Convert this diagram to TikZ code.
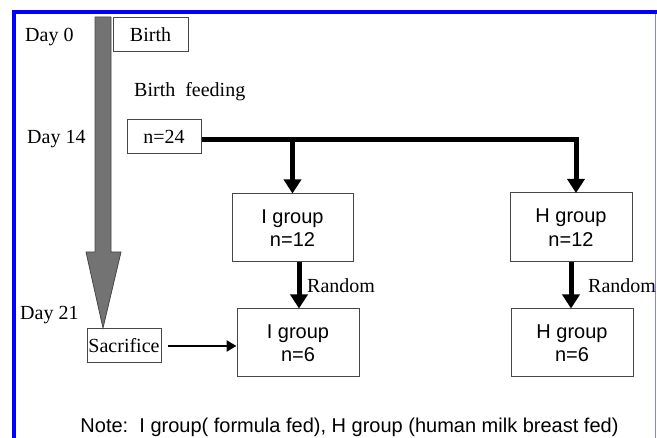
\documentclass[tikz,border=0pt]{standalone}
\usepackage{fontspec}
\setmainfont{Liberation Serif}
\newfontfamily\arialf{Liberation Sans}
\usetikzlibrary{arrows.meta}
\definecolor{boxgray}{RGB}{70,70,70}
\definecolor{shaftgray}{RGB}{115,115,115}
\definecolor{framblue}{RGB}{0,0,255}
\definecolor{framlight}{RGB}{130,130,255}
\begin{document}
\begin{tikzpicture}[x=1pt,y=-1pt,
  tbox/.style={draw=boxgray, line width=1pt, inner sep=0pt, font=\fontsize{20}{23}\selectfont},
  gbox/.style={draw=boxgray, line width=1pt, inner sep=0pt, align=center, font=\arialf\fontsize{20}{23.5}\selectfont},
  lbl/.style={anchor=base west, inner sep=0pt, font=\fontsize{20}{23}\selectfont},
  bigarr/.style={line width=5pt, -{Triangle[width=17pt,length=14pt]}},
  smallarr/.style={line width=2.5pt, -{Triangle[width=11pt,length=10pt]}}]
\useasboundingbox (0,0) rectangle (657,438);
% frame
\fill[framblue] (12,10) rectangle (657,14);
\fill[framblue] (12,10) rectangle (16,438);
\draw[framlight, line width=1.2pt] (655.5,14) -- (655.5,438);
% time arrow
\draw[boxgray, fill=shaftgray, line width=0.8pt]
  (95,17) -- (111,17) -- (111,252) -- (121,252) -- (103,328) -- (86,252) -- (95,252) -- cycle;
% labels
\node[lbl] (d0) at (25,42) {Day 0};
\node[lbl] (d14) at (27,144) {Day 14};
\node[lbl] (d21) at (20,320) {Day 21};
\node[lbl] (bf) at (134,97) {Birth\ \ feeding};
% boxes
\node[tbox, minimum width=75pt, minimum height=34pt] (birth) at (150.5,35) {Birth};
\node[tbox, minimum width=74pt, minimum height=34pt] (n24) at (164,137) {n=24\hspace{6pt}};
\node[tbox, minimum width=74pt, minimum height=34pt] (sac) at (124,346) {Sacrifice};
\node[gbox, minimum width=121pt, minimum height=68pt] (i12) at (292.5,228) {I group\\n=12};
\node[gbox, minimum width=122pt, minimum height=69pt] (h12) at (571,227.5) {H group\\n=12};
\node[gbox, minimum width=122pt, minimum height=68pt] (i6) at (298,343) {I group\\n=6};
\node[gbox, minimum width=122pt, minimum height=68pt] (h6) at (572,343) {H group\\n=6};
% connectors
\coordinate (start) at (n24.east |- 0,140);
\coordinate (split) at (292.5,140);
\coordinate (hin) at (576,193);
\draw[bigarr] (start) -| (hin);
\draw[bigarr] (split) -- (i12.north);
\coordinate (ir) at (299,262);
\draw[bigarr] (ir) -- (ir |- i6.north);
\draw[bigarr] (h12.south) -- (h12.south |- h6.north);
\draw[smallarr] ([xshift=6pt]sac.east) -- (i6.west |- sac.east);
\node[lbl] (ri) at (307,293) {Random};
\node[lbl] (rh) at (588,293) {Random};
% note
\node[anchor=base, inner sep=0pt, font=\arialf\fontsize{20}{23}\selectfont] (note) at (349.5,433) {Note:\ \ I group( formula fed), H group (human milk breast fed)};
\end{tikzpicture}
\end{document}
